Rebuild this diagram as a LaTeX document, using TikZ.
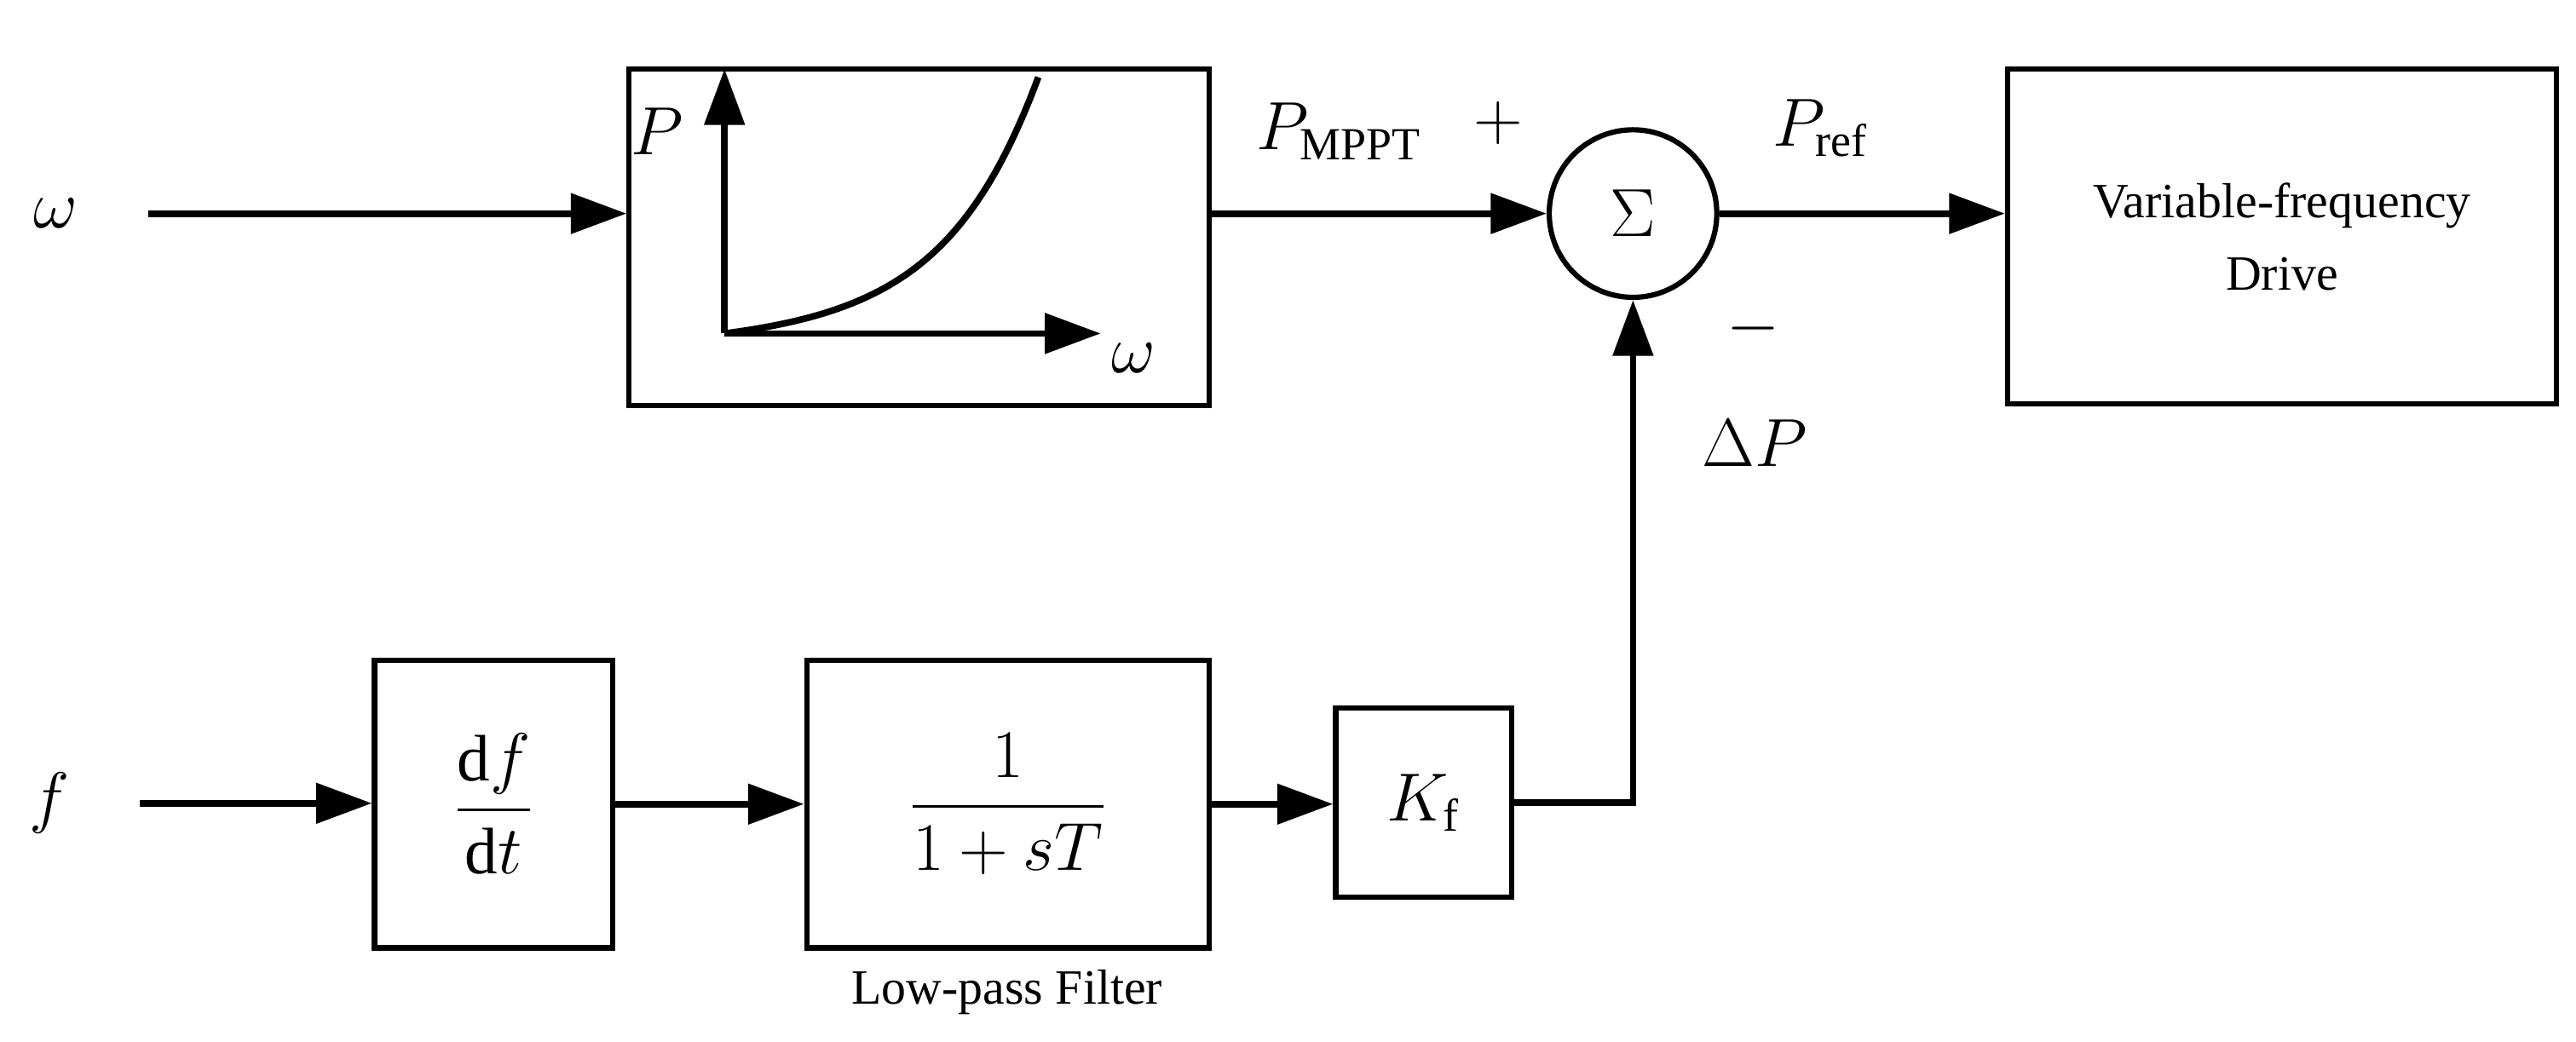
\documentclass[tikz,border=0pt]{standalone}
\usepackage{amsmath}
\usepackage{fontspec}
\setmainfont{Liberation Serif}
\usetikzlibrary{arrows.meta}
\begin{document}
\begin{tikzpicture}[x=0.5pt,y=-0.5pt,
  line width=2pt,
  arr/.style={-{Triangle[length=17pt,width=12pt]}},
  blk/.style={draw,line width=1.6pt,inner sep=0pt},
  lbl/.style={font=\fontsize{20}{24}\selectfont},
  txt/.style={font=\fontsize{15}{18}\selectfont,align=center}]
\useasboundingbox (0,0) rectangle (1568,634);
% top row
\node[lbl] (w) at (34,130) {$\omega$};
\coordinate (win) at (90,130);
\node[blk,minimum width=176.5pt,minimum height=102.5pt] (curve) at (559.5,144.5) {};
\node[draw,circle,line width=1.6pt,minimum size=51pt,inner sep=0pt,font=\fontsize{20}{24}\selectfont] (sum) at (994,130) {$\Sigma$};
\node[blk,minimum width=167pt,minimum height=102pt,txt] (vfd) at (1389,144) {Variable-frequency\\[4pt]Drive};
\draw[arr] (win) -- (win -| curve.west);
\draw[arr] (curve.east |- sum) -- (sum.west);
\draw[arr] (sum.east) -- (sum -| vfd.west);
% curve inside
\coordinate (o) at (441,203);
\coordinate (ytop) at (441,42);
\coordinate (xr) at (670,203);
\draw[arr] (o) -- (ytop);
\draw[arr] (o) -- (xr);
\draw (o) .. controls (540,190) and (590,160) .. (632,47);
\node[lbl] (pl) at (400,80) {$P$};
\node[lbl] (wl) at (690,218) {$\omega$};
\node[lbl] (pm) at (815,80) {$P_{\mathrm{MPPT}}$};
\node[lbl] (plus) at (912,75) {$+$};
\node[lbl] (pref) at (1108,78) {$P_{\mathrm{ref}}$};
\node[lbl] (minus) at (1067,200) {$-$};
\node[lbl] (dp) at (1068,270) {$\Delta P$};
% bottom row
\node[lbl] (f) at (30,489) {$f$};
\coordinate (fin) at (85,489);
\node[blk,minimum width=72.5pt,minimum height=87.5pt,lbl] (d) at (300.5,489.5) {$\dfrac{\mathrm{d}f}{\mathrm{d}t}$};
\node[blk,minimum width=122.5pt,minimum height=87.5pt,lbl] (lp) at (613.5,489.5) {$\dfrac{1}{1+sT}$};
\node[txt] (lpl) at (613,604) {Low-pass Filter};
\node[blk,minimum width=53.5pt,minimum height=57.5pt,lbl] (k) at (866.5,488.5) {$K_{\mathrm{f}}$};
\draw[arr] (fin) -- (fin -| d.west);
\draw[arr] (d.east) -- (d.east -| lp.west);
\draw[arr] (lp.east) -- (lp.east -| k.west);
\draw[arr] (k.east) -| (sum.south);
\end{tikzpicture}
\end{document}
